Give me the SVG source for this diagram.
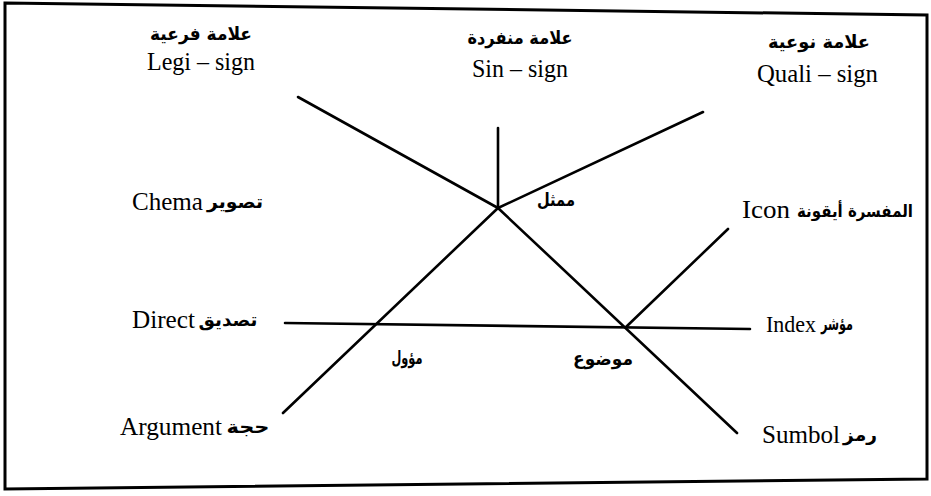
<svg xmlns="http://www.w3.org/2000/svg" width="931" height="496" viewBox="0 0 931 496">
<style>
.lat{font-family:"Liberation Serif","DejaVu Serif",serif;font-size:25px;fill:#000}
.ar{font-family:"DejaVu Sans","Noto Sans",sans-serif;font-size:18px;font-weight:bold;fill:#000;text-anchor:middle}
.ln{stroke:#000;stroke-width:2.6;fill:none;stroke-linecap:round}
.frame{stroke:#000;stroke-width:3;fill:#fff}
</style>
<rect width="931" height="496" fill="#fff"/>
<polygon class="frame" points="5,3 927,15 927,479 5,489"/>
<g id="connectors">
<line class="ln" x1="298" y1="97" x2="498" y2="208"/>
<line class="ln" x1="498" y1="128" x2="498" y2="208"/>
<line class="ln" x1="498" y1="208" x2="703" y2="112"/>
<line class="ln" x1="498" y1="208" x2="737" y2="433"/>
<line class="ln" x1="498" y1="208" x2="283" y2="413"/>
<line class="ln" x1="285" y1="323" x2="750" y2="329"/>
<line class="ln" x1="626" y1="327" x2="728" y2="229"/>
</g>
<g id="legisign"><text class="ar" x="201" y="40" textLength="102" lengthAdjust="spacingAndGlyphs">علامة فرعية</text><text class="lat" x="147" y="70" textLength="108" lengthAdjust="spacingAndGlyphs">Legi – sign</text></g>
<g id="sinsign"><text class="ar" x="520" y="44" textLength="105" lengthAdjust="spacingAndGlyphs">علامة منفردة</text><text class="lat" x="472" y="77" textLength="96" lengthAdjust="spacingAndGlyphs">Sin – sign</text></g>
<g id="qualisign"><text class="ar" x="819" y="48" textLength="102" lengthAdjust="spacingAndGlyphs">علامة نوعية</text><text class="lat" x="757" y="82" textLength="121" lengthAdjust="spacingAndGlyphs">Quali – sign</text></g>
<g id="chema"><text class="lat" x="132" y="210" textLength="71" lengthAdjust="spacingAndGlyphs">Chema</text><text class="ar" x="235" y="208" textLength="56" lengthAdjust="spacingAndGlyphs">تصوير</text></g>
<g id="representamen"><text class="ar" x="556" y="206" textLength="38" lengthAdjust="spacingAndGlyphs">ممثل</text></g>
<g id="icon"><text class="lat" x="742" y="218" textLength="48" lengthAdjust="spacingAndGlyphs">Icon</text><text class="ar" x="855" y="217" style="font-size:17px" textLength="116" lengthAdjust="spacingAndGlyphs">المفسرة أيقونة</text></g>
<g id="direct"><text class="lat" x="132" y="328" textLength="63" lengthAdjust="spacingAndGlyphs">Direct</text><text class="ar" x="228" y="326" textLength="59" lengthAdjust="spacingAndGlyphs">تصديق</text></g>
<g id="index"><text class="lat" x="766" y="332" style="font-size:24px" textLength="50" lengthAdjust="spacingAndGlyphs">Index</text><text class="ar" x="837" y="330" textLength="32" lengthAdjust="spacingAndGlyphs">مؤشر</text></g>
<g id="interpretant"><text class="ar" x="407" y="364" textLength="31" lengthAdjust="spacingAndGlyphs">مؤول</text></g>
<g id="object"><text class="ar" x="603" y="365" textLength="60" lengthAdjust="spacingAndGlyphs">موضوع</text></g>
<g id="argument"><text class="lat" x="120" y="435" textLength="102" lengthAdjust="spacingAndGlyphs">Argument</text><text class="ar" x="248" y="433" textLength="43" lengthAdjust="spacingAndGlyphs">حجة</text></g>
<g id="symbol"><text class="lat" x="762" y="443" textLength="78" lengthAdjust="spacingAndGlyphs">Sumbol</text><text class="ar" x="860" y="441" textLength="34" lengthAdjust="spacingAndGlyphs">رمز</text></g>
</svg>
